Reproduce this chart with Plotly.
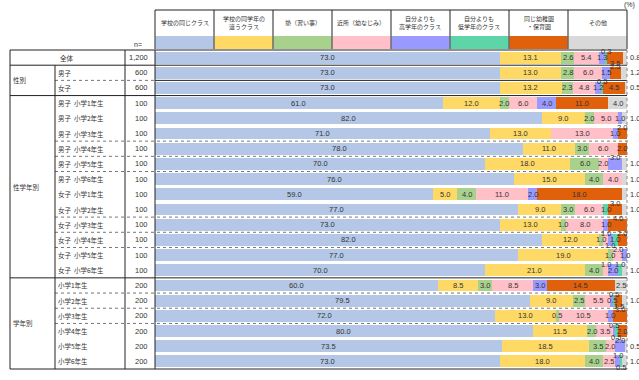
import plotly.graph_objects as go

# ---------------- data ----------------
series_names = ["学校の同じクラス", "学校の同学年の<br>違うクラス", "塾（習い事）", "近所（幼なじみ）",
                "自分よりも<br>高学年のクラス", "自分よりも<br>低学年のクラス", "同じ幼稚園<br>・保育園", "その他"]
series_colors = ["#b4c7e7", "#ffd966", "#a9d18e", "#ffc0c8", "#9999ff", "#5dd5a8", "#e0600c", "#d9d9d9"]

row_labels = ["全体", "男子", "女子",
              "男子  小学1年生", "男子  小学2年生", "男子  小学3年生", "男子  小学4年生", "男子  小学5年生", "男子  小学6年生",
              "女子  小学1年生", "女子  小学2年生", "女子  小学3年生", "女子  小学4年生", "女子  小学5年生", "女子  小学6年生",
              "小学1年生", "小学2年生", "小学3年生", "小学4年生", "小学5年生", "小学6年生"]
n_labels = ["1,200", "600", "600"] + ["100"] * 12 + ["200"] * 6
groups = [("性別", 1, 2), ("性学年別", 3, 14), ("学年別", 15, 20)]

same_class = [73.0, 73.0, 73.0, 61.0, 82.0, 71.0, 78.0, 70.0, 76.0, 59.0, 77.0, 73.0, 82.0, 77.0, 70.0, 60.0, 79.5, 72.0, 80.0, 73.5, 73.0]
other_class = [13.1, 13.0, 13.2, 12.0, 9.0, 13.0, 11.0, 18.0, 15.0, 5.0, 9.0, 13.0, 12.0, 19.0, 21.0, 8.5, 9.0, 13.0, 11.5, 18.5, 18.0]
juku = [2.6, 2.8, 2.3, 2.0, 2.0, 0.0, 3.0, 6.0, 4.0, 4.0, 3.0, 1.0, 1.0, 1.0, 4.0, 3.0, 2.5, 0.5, 2.0, 3.5, 4.0]
kinjo = [5.4, 6.0, 4.8, 6.0, 5.0, 13.0, 6.0, 2.0, 4.0, 11.0, 6.0, 8.0, 1.0, 2.0, 1.0, 8.5, 5.5, 10.5, 3.5, 2.0, 2.5]
upper_grade = [1.3, 1.5, 1.2, 4.0, 1.0, 1.0, 0.0, 3.0, 0.0, 2.0, 0.0, 1.0, 1.0, 1.0, 2.0, 3.0, 0.5, 1.0, 0.5, 2.0, 1.0]
lower_grade = [0.3, 0.0, 0.5, 0.0, 0.0, 0.0, 0.0, 0.0, 0.0, 0.0, 1.0, 0.0, 1.0, 0.0, 1.0, 0.0, 0.5, 0.0, 0.5, 0.0, 0.5]
kinder = [3.5, 2.5, 4.5, 11.0, 0.0, 2.0, 2.0, 0.0, 0.0, 18.0, 3.0, 4.0, 2.0, 0.0, 0.0, 14.5, 1.5, 3.0, 2.0, 0.0, 0.0]
other = [0.8, 1.2, 0.5, 4.0, 1.0, 0.0, 0.0, 1.0, 1.0, 1.0, 1.0, 0.0, 0.0, 0.0, 1.0, 2.5, 1.0, 0.0, 0.0, 0.5, 1.0]
series_values = [same_class, other_class, juku, kinjo, upper_grade, lower_grade, kinder, other]

# ---------------- geometry (pixels) ----------------
W, H = 639, 380
X0, X1 = 155, 627          # bar area 0..100%
Y_TOP, Y_BOT = 50, 369     # table body
NR = len(row_labels)
RH = (Y_BOT - Y_TOP) / NR


def px(x):
    return x / W


def py(y):
    return 1 - y / H


rows = list(range(NR))
fig = go.Figure()
for name, col, vals in zip(series_names, series_colors, series_values):
    fig.add_trace(go.Bar(y=rows, x=vals, orientation="h", name=name.replace("<br>", ""),
                         marker=dict(color=col, line=dict(width=0)), width=0.78,
                         hoverinfo="x+name"))

annotations = []
FONT = "Noto Sans CJK JP, Noto Sans, sans-serif"
NUMFONT = "Liberation Sans, Arial, sans-serif"
TXT = "#333333"


def ptext(x, y, text, size, xanchor="center", family=FONT):
    annotations.append(dict(x=px(x), y=py(y), xref="paper", yref="paper", text=text, showarrow=False,
                            xanchor=xanchor, yanchor="middle",
                            font=dict(size=size, color=TXT, family=family)))


# bar value labels (small neighbouring labels are staggered up / down)
LABEL_W = 2.7   # approx. label width in % units
for r in rows:
    cum = 0.0
    placed = []
    for si, vals in enumerate(series_values):
        v = vals[r]
        if v <= 0:
            continue
        c = cum + v / 2
        cum += v
        xs, xa = c, "center"
        cc = c
        if si == len(series_values) - 1 and v < 2.5:
            xs, xa = 100, "left"
            cc = 101.4
        lvl = 0
        for cand in (0, 1, -1):
            if all(abs(cc - pc) >= LABEL_W or pl != cand for pc, pl in placed):
                lvl = cand
                break
        placed.append((cc, lvl))
        annotations.append(dict(x=xs, y=r, xref="x", yref="y", text=f"{v:.1f}", showarrow=False,
                                xanchor=xa, yanchor="middle", yshift=6 * lvl,
                                xshift=1 if xa == "left" else 0,
                                font=dict(size=7.5, color=TXT, family=NUMFONT)))

shapes = []


def hline(x0, x1, y, dash="solid", color="#222222", w=1):
    shapes.append(dict(type="line", xref="paper", yref="paper", x0=px(x0), x1=px(x1), y0=py(y), y1=py(y),
                       line=dict(color=color, width=w, dash=dash)))


def vline(x, y0, y1, dash="solid", color="#222222", w=1):
    shapes.append(dict(type="line", xref="paper", yref="paper", x0=px(x), x1=px(x), y0=py(y0), y1=py(y1),
                       line=dict(color=color, width=w, dash=dash)))


# header (legend boxes)
HDR_TOP, HDR_MID, HDR_BOT = 10, 36, 49
cw = (X1 - X0) / len(series_names)
for i, (name, col) in enumerate(zip(series_names, series_colors)):
    xl = X0 + i * cw
    shapes.append(dict(type="rect", xref="paper", yref="paper", x0=px(xl + 0.5), x1=px(xl + cw - 0.5),
                       y0=py(HDR_BOT), y1=py(HDR_MID), fillcolor=col, line=dict(width=0)))
    ptext(xl + cw / 2, 22.5, name, 6)
    vline(xl, HDR_TOP, HDR_BOT)
vline(X1, HDR_TOP, HDR_BOT)
hline(X0, X1, HDR_TOP)
ptext(637, 5, "(%)", 7, xanchor="right", family=NUMFONT)
ptext(138, 44, "n=", 7, family=NUMFONT)

# table body lines
solid_after = {0, 2, 14}
dashed_after = {5, 6, 7, 10, 11, 12, 15, 16, 17}
hline(10, X1, Y_TOP)
hline(10, X1, Y_BOT)
for r in range(NR - 1):
    yb = Y_TOP + (r + 1) * RH
    if r in solid_after:
        hline(10, X1, yb)
    elif r == 1:
        hline(55, X0, yb, dash="dot", color="#777777")
        hline(X0, X1, yb)
    elif r in dashed_after:
        hline(55, X1, yb, dash="dot", color="#777777")
vline(10, Y_TOP, Y_BOT)
vline(55, Y_TOP + RH, Y_BOT)
vline(125, Y_TOP, Y_BOT)
vline(X0, Y_TOP, Y_BOT)
vline(X1, Y_TOP, Y_BOT, dash="dot", color="#888888")

# table texts
for r, (lab, n) in enumerate(zip(row_labels, n_labels)):
    yc = Y_TOP + (r + 0.5) * RH
    if r == 0:
        ptext(67, yc, lab, 6.5)
    else:
        ptext(56, yc, lab, 6.5, xanchor="left")
    ptext(150, yc, n, 7.5, xanchor="right", family=NUMFONT)
for g, a, b in groups:
    yc = Y_TOP + ((a + b + 1) / 2) * RH
    ptext(11, yc, g, 6.5, xanchor="left")

fig.update_layout(
    width=W, height=H, barmode="stack", showlegend=False,
    margin=dict(l=0, r=0, t=0, b=0), paper_bgcolor="white", plot_bgcolor="white",
    xaxis=dict(domain=[px(X0), px(X1)], range=[0, 100], showgrid=False, zeroline=False,
               showticklabels=False, fixedrange=True),
    yaxis=dict(domain=[py(Y_BOT), py(Y_TOP)], range=[NR - 0.5, -0.5], showgrid=False, zeroline=False,
               showticklabels=False, fixedrange=True),
    bargap=0, annotations=annotations, shapes=shapes,
    font=dict(family=FONT),
)
fig.write_html("out.html", config={"displayModeBar": False},
               post_script="document.body.style.margin='0';document.body.style.overflow='hidden';")
